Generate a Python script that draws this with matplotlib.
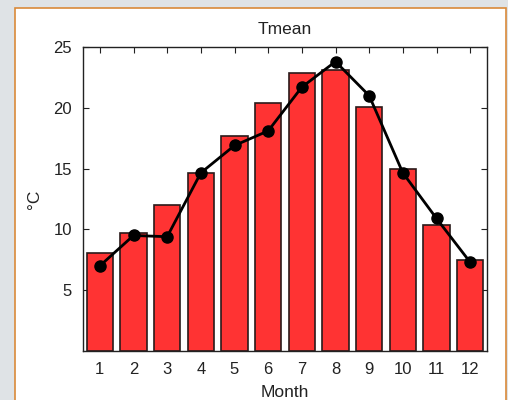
import matplotlib
matplotlib.use('Agg')
import matplotlib.pyplot as plt
from matplotlib.patches import Rectangle

# monthly mean temperature (bars) and second series (line)
months = [1, 2, 3, 4, 5, 6, 7, 8, 9, 10, 11, 12]
bar_vals = [8.1, 9.7, 12.0, 14.6, 17.7, 20.4, 22.9, 23.1, 20.1, 15.0, 10.4, 7.5]
line_vals = [7.0, 9.5, 9.4, 14.65, 16.9, 18.1, 21.7, 23.8, 21.0, 14.65, 10.9, 7.3]
y_ticks = [5, 10, 15, 20, 25]

plt.rcParams['font.family'] = ['Liberation Sans', 'DejaVu Sans']

fig = plt.figure(figsize=(5.08, 4.0), dpi=100)
fig.patch.set_facecolor('#dfe3e6')

# white panel with orange border
W, H = 508, 400
panel = Rectangle((15 / W, -0.05), (506 - 15) / W, 1.05 - 8 / H,
                  transform=fig.transFigure, facecolor='white',
                  edgecolor='#d98a3a', linewidth=1.2, zorder=-10)
fig.patches.append(panel)

ax = fig.add_axes([83 / W, 1 - 351 / H, (487 - 83) / W, (351 - 47) / H])
ax.bar(months, bar_vals, width=0.78, color='#ff3333', edgecolor='#2a1a1a',
       linewidth=1.2, zorder=2)
ax.plot(months, line_vals, color='black', linewidth=2.0, marker='o',
        markersize=8, zorder=3)

ax.set_xlim(0.5, 12.5)
ax.set_ylim(0, 25)
ax.set_xticks(months)
ax.set_yticks(y_ticks)
ax.tick_params(direction='in', top=True, right=True, labelsize=12,
               length=4, width=0.8, pad=8, colors='#222222')
for s in ax.spines.values():
    s.set_linewidth(1.0)
    s.set_color('#222222')

ax.set_title('Tmean', fontsize=12.5, pad=9, color='#222222')
ax.set_xlabel('Month', fontsize=12.5, labelpad=6, color='#222222')
ax.set_ylabel('°C', fontsize=12.5, labelpad=8, color='#222222')

fig.savefig('out.png', dpi=100, facecolor=fig.get_facecolor())
